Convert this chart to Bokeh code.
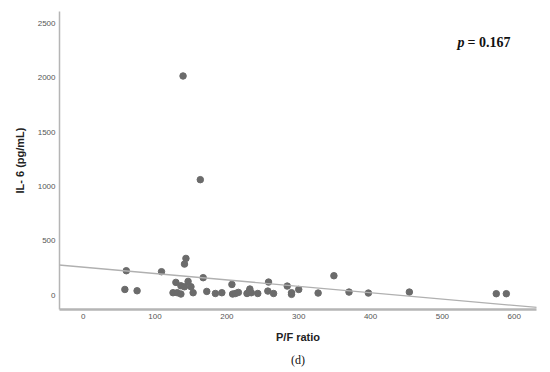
from bokeh.plotting import figure
from bokeh.models import Range1d, Label, Title, FixedTicker, Slope
from bokeh.embed import file_html
from bokeh.resources import INLINE

pf_ratio = [60, 58, 75, 109, 143, 141, 129, 136, 141, 146, 150, 125, 131, 136, 153,
            167, 172, 184, 193, 207, 208, 212, 216, 228, 231, 232, 234, 243, 258, 257,
            265, 284, 290, 290, 300, 327, 349, 370, 397, 454, 575, 589, 139, 163]
il6 = [227, 55, 43, 218, 340, 288, 120, 89, 80, 129, 80, 25, 25, 13, 25,
       163, 37, 18, 25, 101, 13, 18, 28, 18, 37, 59, 25, 18, 123, 40,
       18, 86, 10, 25, 55, 22, 181, 31, 22, 31, 16, 16, 2015, 1063]
fit_intercept = 260
fit_slope = -0.586
x_ticks = [0, 100, 200, 300, 400, 500, 600]
y_ticks = [0, 500, 1000, 1500, 2000, 2500]
p_text = "= 0.167"

p = figure(width=550, height=372, output_backend="svg", toolbar_location=None,
           x_range=Range1d(-33, 631), y_range=Range1d(-129, 2607),
           min_border_left=59, min_border_right=14, min_border_top=11, min_border_bottom=63)
p.outline_line_color = None
p.grid.grid_line_color = None
p.background_fill_color = "white"

for ax in (p.xaxis[0], p.yaxis[0]):
    ax.axis_line_color = "#b5b5b5"
    ax.major_tick_line_color = None
    ax.minor_tick_line_color = None
    ax.major_tick_out = 0
    ax.major_tick_in = 0
    ax.minor_tick_out = 0
    ax.minor_tick_in = 0
    ax.major_label_text_font = "Liberation Sans"
    ax.major_label_text_font_size = "8px"
    ax.major_label_text_color = "#555555"
    ax.axis_label_text_font = "Liberation Sans"
    ax.axis_label_text_font_style = "bold"
    ax.axis_label_text_font_size = "11px"
    ax.axis_label_text_color = "#222222"

p.xaxis[0].axis_line_width = 2.5
p.yaxis[0].axis_line_width = 1.5
p.xaxis[0].ticker = FixedTicker(ticks=x_ticks)
p.yaxis[0].ticker = FixedTicker(ticks=y_ticks)
p.xaxis[0].major_label_standoff = 4
p.yaxis[0].major_label_standoff = 4
p.xaxis.axis_label = "P/F ratio"
p.yaxis.axis_label = "IL- 6 (pg/mL)"
p.xaxis[0].axis_label_standoff = 9
p.yaxis[0].axis_label_standoff = 9

p.add_layout(Slope(gradient=fit_slope, y_intercept=fit_intercept,
                   line_color="#b0b0b0", line_width=1.3))

p.scatter(pf_ratio, il6, size=6.5, color="#6b6b6b", line_color="#6b6b6b")

p.add_layout(Label(x=521, y=2323, text="p", text_font="Liberation Serif",
                   text_baseline="alphabetic",
                   text_font_style="bold italic", text_font_size="14px", text_color="#111111"))
p.add_layout(Label(x=535, y=2323, text=p_text, text_font="Liberation Serif",
                   text_baseline="alphabetic",
                   text_font_style="bold", text_font_size="14px", text_color="#111111"))

cap = Title(text="(d)", align="center", text_font="Liberation Serif",
            text_font_style="normal", text_font_size="12px", text_color="#111111",
            offset=0, standoff=10)
p.add_layout(cap, "below")

open("out.html", "w").write(file_html(p, INLINE))
